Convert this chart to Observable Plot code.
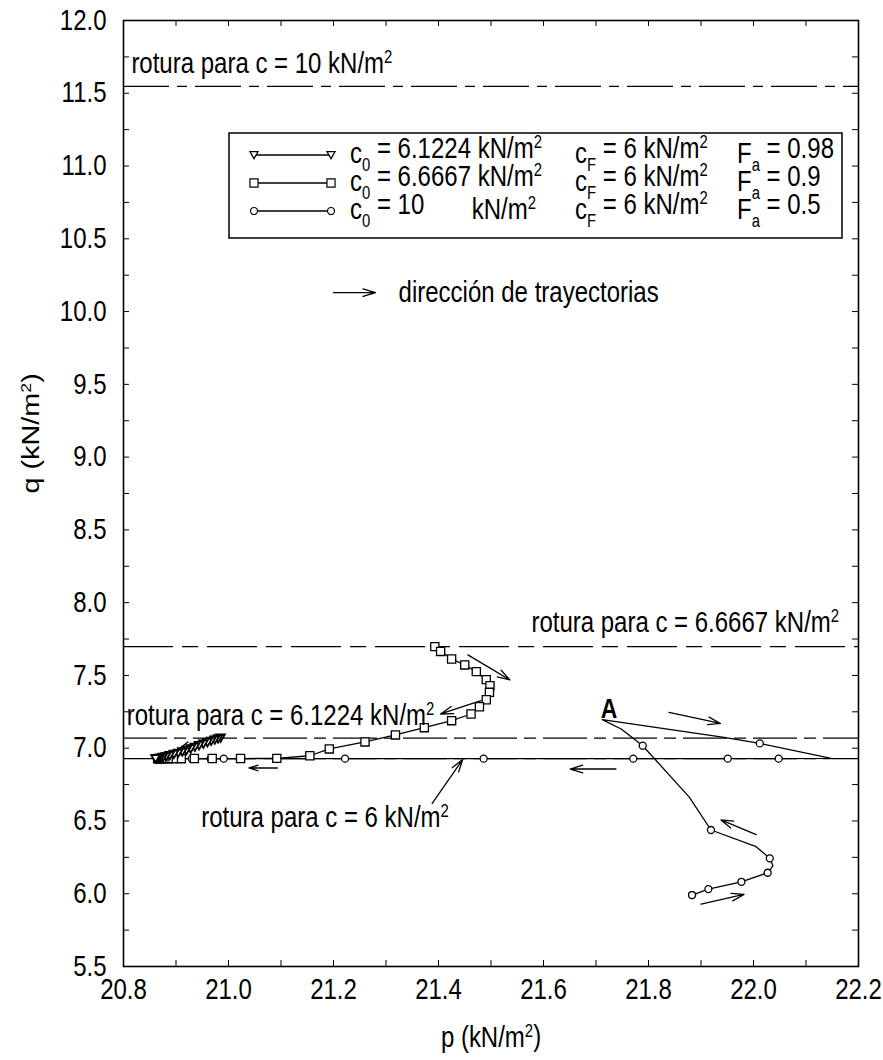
<!DOCTYPE html>
<html>
<head>
<meta charset="utf-8">
<script src="https://cdn.jsdelivr.net/npm/d3@7"></script>
<script src="https://cdn.jsdelivr.net/npm/@observablehq/plot@0.6"></script>
<style>
  html, body { margin: 0; padding: 0; background: #fff; }
  #chart svg { display: block; }
</style>
</head>
<body>
<div id="chart"></div>
<script>
// Stress paths p–q for three initial cohesions, with failure lines q = 2c/√3.

// Failure lines (c in kN/m², q at failure)
const failC = [10, 6.6667, 6.1224, 6];
const failQ = [11.547, 7.698, 7.069, 6.928];

// Series 1: c0 = 6.1224, Fa = 0.98 (triangles) — [p, q]
const pathTri = [
  [20.985, 7.070], [20.980, 7.064], [20.974, 7.057], [20.967, 7.048],
  [20.960, 7.039], [20.952, 7.029], [20.944, 7.018], [20.936, 7.007],
  [20.928, 6.996], [20.920, 6.985], [20.912, 6.975], [20.904, 6.966],
  [20.896, 6.958], [20.888, 6.950], [20.881, 6.943], [20.875, 6.937],
  [20.870, 6.933], [20.866, 6.930], [20.863, 6.929], [20.861, 6.928]
];

// Series 2: c0 = 6.6667, Fa = 0.9 (squares) — [p, q]
const pathSq = [
  [21.393, 7.698], [21.404, 7.665], [21.425, 7.613], [21.450, 7.572],
  [21.472, 7.526], [21.491, 7.471], [21.498, 7.430], [21.497, 7.384],
  [21.491, 7.333], [21.478, 7.285], [21.462, 7.235], [21.425, 7.189],
  [21.373, 7.141], [21.318, 7.091], [21.260, 7.043], [21.192, 6.995],
  [21.155, 6.948], [21.092, 6.930], [21.023, 6.929], [20.969, 6.929],
  [20.935, 6.929], [20.910, 6.928], [20.895, 6.928], [20.885, 6.928],
  [20.877, 6.928], [20.872, 6.928], [20.868, 6.928], [20.865, 6.928]
];

// Series 3: c0 = 10, Fa = 0.5 — full trajectory vertices [p, q]
const pathCirc = [
  [21.883, 5.991], [21.914, 6.032], [21.977, 6.082], [22.027, 6.144],
  [22.037, 6.192], [22.031, 6.243], [22.005, 6.323], [21.919, 6.438],
  [21.878, 6.662], [21.789, 7.017], [21.748, 7.132], [21.712, 7.196],
  [21.944, 7.074], [22.012, 7.033], [22.148, 6.930], [22.048, 6.928],
  [21.951, 6.928], [21.771, 6.928], [21.486, 6.928], [21.222, 6.928],
  [20.991, 6.928], [20.930, 6.928], [20.890, 6.928], [20.866, 6.928]
];
// Series 3: recorded points shown with circles [p, q]
const dotsCirc = [
  [21.883, 5.991], [21.883, 5.991], [21.914, 6.032], [21.977, 6.082],
  [22.027, 6.144], [22.031, 6.243], [21.919, 6.438], [21.789, 7.017],
  [22.012, 7.033], [22.048, 6.928], [21.951, 6.928], [21.771, 6.928],
  [21.486, 6.928], [21.222, 6.928], [20.991, 6.928], [20.966, 6.928],
  [20.930, 6.928], [20.890, 6.928]
];

// Direction arrows [p1, q1, p2, q2]
const arrowsDir = [
  [21.200, 10.130, 21.280, 10.130],
  [21.456, 7.641, 21.536, 7.469],
  [21.481, 7.327, 21.404, 7.235],
  [21.093, 6.864, 21.039, 6.864],
  [21.738, 6.857, 21.651, 6.857],
  [21.839, 7.246, 21.937, 7.170],
  [22.005, 6.406, 21.938, 6.507],
  [21.900, 5.929, 21.982, 5.995],
  [20.968, 7.082, 20.905, 6.992]
];
// Pointer from the c = 6 label to its failure line
const arrowLabel6 = [[21.388, 6.621, 21.446, 6.922]];

// Text annotations, left-aligned and right-aligned
const notesStart = [
  {text: "rotura para c = 10 kN/m²", p: 20.815, q: 11.704},
  {text: "rotura para c = 6.1224 kN/m²", p: 20.806, q: 7.223},
  {text: "rotura para c = 6 kN/m²", p: 20.948, q: 6.522},
  {text: "dirección de trayectorias", p: 21.324, q: 10.130}
];
const notesEnd = [
  {text: "rotura para c = 6.6667 kN/m²", p: 22.163, q: 7.863}
];
const pointA = [{label: "A", p: 21.725, q: 7.27}];

// Axis ticks
const xTicks = [20.8, 21.0, 21.2, 21.4, 21.6, 21.8, 22.0, 22.2];
const xMinor = d3.range(0, 15).map(i => +(20.8 + i * 0.1).toFixed(1));
const yTicks = [5.5, 6.0, 6.5, 7.0, 7.5, 8.0, 8.5, 9.0, 9.5, 10.0, 10.5, 11.0, 11.5, 12.0];
const yMinor = d3.range(0, 27).map(i => 5.5 + i * 0.25);

// Legend entries
const legendRows = [
  {c0: "6.1224", cF: "6", fa: "0.98", symbol: "triangleDown"},
  {c0: "6.6667", cF: "6", fa: "0.9", symbol: "square"},
  {c0: "10", cF: "6", fa: "0.5", symbol: "circle"}
];

// ---------- drawing ----------
const W = 883, H = 1060;
const mL = 123, mR = 25, mT = 20, mB = 94;
const innerH = H - mT - mB;
const tickLen = 6;
const FS = 24;          // text size
const STRETCH = 1.2;    // tall glyph proportion
const font = "'Liberation Sans', Arial, Helvetica, sans-serif";

const triangleDown = {
  draw(ctx, size) {
    const s = Math.sqrt(size) * 1.1;
    ctx.moveTo(-s / 2, -s * 0.42);
    ctx.lineTo(s / 2, -s * 0.42);
    ctx.lineTo(0, s * 0.45);
    ctx.closePath();
  }
};

const dashes = ["46,8,10,8", "50,9,16,9", "44,7,12,7", "44,7,12,7"];
const arrowStyle = {stroke: "black", strokeWidth: 1.3, headLength: 15, headAngle: 34};

const marks = [
  // failure lines
  ...failQ.map((q, i) => Plot.ruleY([q], {stroke: "black", strokeWidth: 1.3, strokeDasharray: dashes[i]})),
  // inward tick marks on all four sides
  Plot.ruleX(xMinor, {x: d => d, insetTop: innerH - tickLen, stroke: "black"}),
  Plot.ruleX(xMinor, {x: d => d, insetBottom: innerH - tickLen, stroke: "black"}),
  Plot.ruleY(yMinor, {y: d => d, insetRight: W - mL - mR - tickLen, stroke: "black"}),
  Plot.ruleY(yMinor, {y: d => d, insetLeft: W - mL - mR - tickLen, stroke: "black"}),
  // trajectories
  Plot.line(pathCirc, {x: d => d[0], y: d => d[1], stroke: "black", strokeWidth: 1.3}),
  Plot.line(pathSq, {x: d => d[0], y: d => d[1], stroke: "black", strokeWidth: 1.3}),
  Plot.line(pathTri, {x: d => d[0], y: d => d[1], stroke: "black", strokeWidth: 2.2}),
  Plot.dot(dotsCirc, {x: d => d[0], y: d => d[1], r: 3.5, symbol: "circle", stroke: "black", fill: "white", strokeWidth: 1.3}),
  Plot.dot(pathSq, {x: d => d[0], y: d => d[1], r: 4.6, symbol: "square", stroke: "black", fill: "white", strokeWidth: 1.3}),
  Plot.dot(pathTri, {x: d => d[0], y: d => d[1], r: 4.4, symbol: triangleDown, stroke: "black", fill: "white", strokeWidth: 1.8}),
  // arrows
  Plot.arrow(arrowsDir, {x1: d => d[0], y1: d => d[1], x2: d => d[2], y2: d => d[3], ...arrowStyle}),
  Plot.arrow(arrowLabel6, {x1: d => d[0], y1: d => d[1], x2: d => d[2], y2: d => d[3], ...arrowStyle}),
  // annotations
  Plot.text(notesStart, {x: "p", y: "q", text: "text", textAnchor: "start", fontSize: FS, fill: "black"}),
  Plot.text(notesEnd, {x: "p", y: "q", text: "text", textAnchor: "end", fontSize: FS, fill: "black"}),
  Plot.text(pointA, {x: "p", y: "q", text: "label", fontSize: FS - 1, fontWeight: "bold", fill: "black"}),
  // axes
  Plot.axisX(xTicks, {tickSize: 0, tickPadding: 12, fontSize: FS, tickFormat: d => d.toFixed(1), label: null}),
  Plot.axisY(yTicks, {tickSize: 0, tickPadding: 17, fontSize: FS, tickFormat: d => d.toFixed(1), label: null}),
  Plot.text(["p (kN/m²)"], {frameAnchor: "bottom", dy: 80, fontSize: FS, fill: "black"}),
  Plot.text(["q (kN/m²)"], {frameAnchor: "left", dx: -92, rotate: -90, fontSize: FS, fill: "black"}),
  Plot.frame({stroke: "black", strokeWidth: 1.6})
];

const plot = Plot.plot({
  width: W, height: H,
  marginLeft: mL, marginRight: mR, marginTop: mT, marginBottom: mB,
  style: {fontFamily: font, fontSize: FS + "px", background: "white", color: "black", overflow: "visible"},
  x: {domain: [20.8, 22.2]},
  y: {domain: [5.5, 12.0]},
  marks
});
document.getElementById("chart").appendChild(plot);

const svg = d3.select(plot);

// Superscript "2" for the unit labels
svg.selectAll("text").each(function () {
  const el = d3.select(this);
  const s = this.textContent;
  if (!s.includes("²") || this.querySelector("tspan")) return;
  const k = s.indexOf("²");
  el.text(null);
  el.append("tspan").text(s.slice(0, k));
  el.append("tspan").attr("dy", "-0.55em").attr("font-size", "0.62em").text("2");
  if (k + 1 < s.length) el.append("tspan").attr("dy", "0.34em").text(s.slice(k + 1));
});

// Tall glyph proportion: stretch every text about its own anchor
svg.selectAll("text").each(function () {
  const t = this.getAttribute("transform") || "";
  const rotated = /rotate\(/.test(t);
  this.setAttribute("transform", t + (rotated ? ` scale(${STRETCH},1)` : ` scale(1,${STRETCH})`));
});

// Legend box inside the plotting area
const lg = svg.append("g").attr("font-family", font).attr("fill", "black").attr("text-anchor", "start");
lg.append("rect").attr("x", 229).attr("y", 133).attr("width", 613).attr("height", 105)
  .attr("fill", "white").attr("stroke", "black").attr("stroke-width", 1.5);

const symbolOf = {
  triangleDown: d3.symbol(triangleDown, 55),
  square: d3.symbol(d3.symbolSquare, 66),
  circle: d3.symbol(d3.symbolCircle, 38)
};

function piece(x, y) {
  return lg.append("text")
    .attr("transform", `translate(${x},${y}) scale(1,${STRETCH})`)
    .attr("font-size", FS);
}
function sub(t, s) { t.append("tspan").attr("dy", "0.45em").attr("font-size", "0.62em").text(s); }
function sup(t, s) { t.append("tspan").attr("dy", "-0.55em").attr("font-size", "0.62em").text(s); }

const c0X = 350;
let unitX = null;   // where "kN/m" starts in the first row
legendRows.forEach((row, i) => {
  const cy = 155 + i * 28;
  lg.append("line").attr("x1", 254).attr("x2", 331).attr("y1", cy).attr("y2", cy)
    .attr("stroke", "black").attr("stroke-width", 1.3);
  [254, 331].forEach(x => lg.append("path").attr("d", symbolOf[row.symbol]())
    .attr("transform", `translate(${x},${cy})`)
    .attr("fill", "white").attr("stroke", "black").attr("stroke-width", 1.2));
  const base = cy + 8;
  // c0 column
  const t1 = piece(c0X, base);
  t1.append("tspan").text("c");
  sub(t1, "0");
  const eq = t1.append("tspan").attr("dy", "-0.45em").text(" = " + row.c0 + " ");
  if (unitX === null) unitX = eq.node().getEndPositionOfChar(eq.text().length - 1).x;
  const k1 = row.c0 === "10" ? piece(c0X + unitX - 6, base) : t1;
  k1.append("tspan").text("kN/m");
  sup(k1, "2");
  // cF column
  const t2 = piece(575, base);
  t2.append("tspan").text("c");
  sub(t2, "F");
  t2.append("tspan").attr("dy", "-0.45em").text(" = " + row.cF + " kN/m");
  sup(t2, "2");
  // Fa column
  const t3 = piece(737, base);
  t3.append("tspan").text("F");
  sub(t3, "a");
  t3.append("tspan").attr("dy", "-0.45em").text(" = " + row.fa);
});
</script>
</body>
</html>
